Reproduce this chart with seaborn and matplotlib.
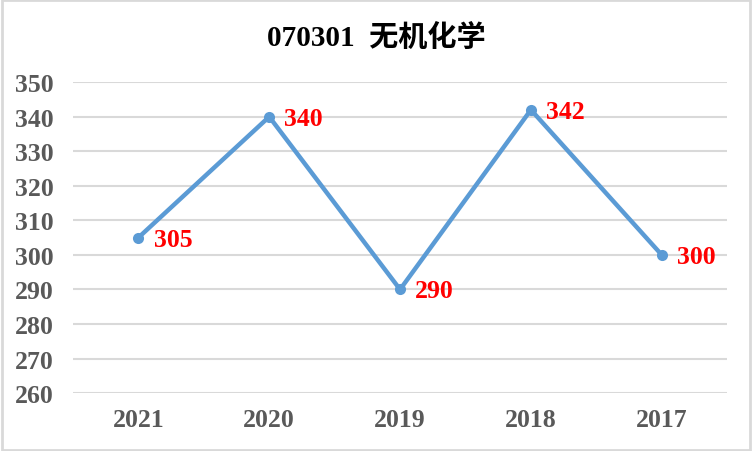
import matplotlib
matplotlib.use("Agg")
import matplotlib.pyplot as plt
import seaborn as sns
import pandas as pd
from matplotlib.patches import Rectangle

years = ["2021", "2020", "2019", "2018", "2017"]
scores = [305, 340, 290, 342, 300]
yticks = [260, 270, 280, 290, 300, 310, 320, 330, 340, 350]
title = "070301  无机化学"

df = pd.DataFrame({"year": years, "score": scores})

sns.set_theme(style="white")
plt.rcParams["font.family"] = ["Liberation Serif", "Noto Sans CJK SC"]

fig = plt.figure(figsize=(7.52, 4.52), dpi=100)
ax = fig.add_axes([0.097, 0.128, 0.870, 0.688])

sns.lineplot(data=df, x="year", y="score", ax=ax, sort=False, color="#5b9bd5",
             linewidth=3.2, marker="o", markersize=8, markeredgewidth=0)

ax.set_ylim(260, 350)
ax.set_xlim(-0.5, len(years) - 0.5)
ax.set_yticks(yticks)
ax.grid(axis="y", color="#d9d9d9", linewidth=1.5)
ax.set_axisbelow(True)
for s in ax.spines.values():
    s.set_visible(False)
ax.tick_params(axis="both", length=0, labelsize=18.5, labelcolor="#595959")
ax.tick_params(axis="x", pad=11)
ax.tick_params(axis="y", pad=14)
for lab in ax.get_xticklabels() + ax.get_yticklabels():
    lab.set_fontweight("bold")
ax.set_xlabel("")
ax.set_ylabel("")

for i, v in enumerate(scores):
    ax.annotate(str(v), (i, v), xytext=(11, -1), textcoords="offset points",
                ha="left", va="center", color="#ff0000", fontsize=18.5,
                fontweight="bold")

fig.text(0.5, 0.916, title, ha="center", va="center", fontsize=21,
         fontweight="bold", color="#000000")

fig.patches.append(Rectangle((0.002, 0.003), 0.996, 0.994, transform=fig.transFigure,
                             fill=False, edgecolor="#d9d9d9", linewidth=2))

fig.savefig("out.png", dpi=100)
